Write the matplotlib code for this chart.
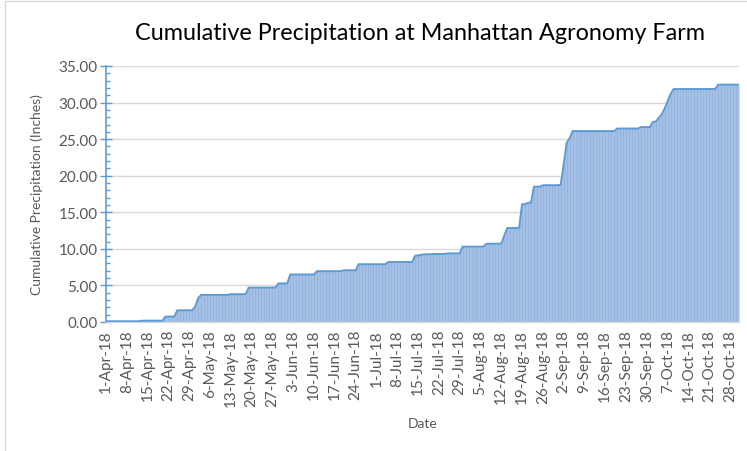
import matplotlib
matplotlib.use('Agg')
import matplotlib.pyplot as plt
from matplotlib.patches import Rectangle
from matplotlib.ticker import MultipleLocator, FormatStrFormatter
import numpy as np
import pandas as pd

#%% Data: daily cumulative precipitation (inches)
apr = [0.10, 0.10, 0.10, 0.10, 0.10, 0.10, 0.10, 0.10, 0.10, 0.10,
       0.10, 0.10, 0.18, 0.18, 0.18, 0.18, 0.18, 0.18, 0.18, 0.18,
       0.74, 0.74, 0.74, 0.74, 1.60, 1.60, 1.60, 1.60, 1.60, 1.60]
may = [2.10, 3.25, 3.70, 3.70, 3.70, 3.70, 3.70, 3.70, 3.70, 3.70,
       3.70, 3.70, 3.80, 3.80, 3.80, 3.80, 3.80, 3.80, 4.70, 4.70,
       4.70, 4.70, 4.70, 4.70, 4.70, 4.70, 4.70, 4.70, 5.28, 5.28,
       5.28]
jun = [5.28, 6.50, 6.50, 6.50, 6.50, 6.50, 6.50, 6.50, 6.50, 6.50,
       6.95, 6.95, 6.95, 6.95, 6.95, 6.95, 6.95, 6.95, 6.95, 7.07,
       7.07, 7.07, 7.07, 7.07, 7.90, 7.90, 7.90, 7.90, 7.90, 7.90]
jul = [7.90, 7.90, 7.90, 7.90, 8.20, 8.20, 8.20, 8.20, 8.20, 8.20,
       8.20, 8.20, 8.20, 9.05, 9.12, 9.18, 9.25, 9.25, 9.25, 9.30,
       9.30, 9.30, 9.30, 9.30, 9.38, 9.38, 9.38, 9.38, 9.38, 10.30,
       10.30]
aug = [10.30, 10.30, 10.30, 10.30, 10.30, 10.30, 10.70, 10.70, 10.70, 10.70,
       10.70, 10.70, 11.80, 12.85, 12.85, 12.85, 12.85, 12.85, 16.10, 16.10,
       16.30, 16.30, 18.50, 18.50, 18.50, 18.70, 18.70, 18.70, 18.70, 18.70,
       18.70]
sep = [18.75, 21.50, 24.50, 25.10, 26.10, 26.10, 26.10, 26.10, 26.10, 26.10,
       26.10, 26.10, 26.10, 26.10, 26.10, 26.10, 26.10, 26.10, 26.10, 26.45,
       26.45, 26.45, 26.45, 26.45, 26.45, 26.45, 26.45, 26.65, 26.65, 26.65]
oct_ = [26.65, 27.35, 27.40, 27.90, 28.40, 29.20, 30.20, 31.20, 31.85, 31.85,
        31.85, 31.85, 31.85, 31.85, 31.85, 31.85, 31.85, 31.85, 31.85, 31.85,
        31.85, 31.85, 31.85, 32.45, 32.45, 32.45, 32.45, 32.45, 32.45, 32.45,
        32.45]

precip = apr + may + jun + jul + aug + sep + oct_
dates = pd.date_range('2018-04-01', '2018-10-31', freq='D')
tick_labels = ['%d-%s-18' % (d.day, d.strftime('%b')) for d in dates[::7]]

#%% Plot
plt.rcParams['font.family'] = ['Lato', 'DejaVu Sans']
W, H = 747, 452
fig = plt.figure(figsize=(W / 100, H / 100), dpi=100)
fig.subplots_adjust(left=106 / W, right=739 / W, top=1 - 67 / H, bottom=1 - 323 / H)
ax = fig.add_subplot(1, 1, 1)

# light chart-area border
fig.patches.append(Rectangle((5 / W, -0.1), 1.2, 1 - 2 / H + 0.1, transform=fig.transFigure,
                             fill=False, edgecolor='#D9D9D9', lw=1.0))

x = np.arange(len(precip))
ax.fill_between(x, precip, color='#A5C0E5', lw=0, zorder=2)
ax.vlines(x, 0, precip, color='#93B0DA', lw=0.5, zorder=2)
ax.plot(x, precip, color='#5B9BD5', lw=1.4, zorder=3)

ax.set_xlim(0, len(precip) - 1)
ax.set_ylim(0, 35)
ax.set_xticks(x[::7])
ax.set_xticklabels(tick_labels, rotation=90)
ax.yaxis.set_major_locator(MultipleLocator(5))
ax.yaxis.set_minor_locator(MultipleLocator(1))
ax.yaxis.set_major_formatter(FormatStrFormatter('%.2f'))
ax.grid(True, axis='y', color='#D9D9D9', lw=1.0, zorder=0)
ax.set_axisbelow(True)

ax.tick_params(axis='x', length=0, pad=5, labelsize=11, labelcolor='#595959')
ax.tick_params(axis='y', which='major', direction='inout', length=8, width=1,
               color='#5B9BD5', labelsize=11, labelcolor='#595959', pad=2)
ax.tick_params(axis='y', which='minor', direction='in', length=3, width=1, color='#5B9BD5')

for s in ['top', 'right']:
    ax.spines[s].set_visible(False)
ax.spines['left'].set_color('#5B9BD5')
ax.spines['left'].set_linewidth(1.2)
ax.spines['bottom'].set_color('#D9D9D9')
ax.spines['bottom'].set_linewidth(1.0)

ax.set_xlabel('Date', fontsize=10, color='#595959', labelpad=8)
ax.set_ylabel('Cumulative Precipitation (Inches)', fontsize=10, color='#595959', labelpad=11)
fig.suptitle('Cumulative Precipitation at Manhattan Agronomy Farm', x=420 / W, y=1 - 33 / H,
             va='center', fontsize=16.8, color='#000000')

fig.savefig('out.png', dpi=100)
